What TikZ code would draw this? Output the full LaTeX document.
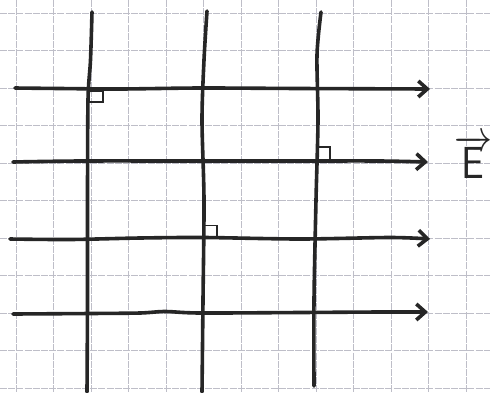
\documentclass[tikz,border=0pt]{standalone}
\usepackage{graphicx}
\usetikzlibrary{arrows.meta}
\definecolor{gridc}{RGB}{190,190,200}
\definecolor{ink}{RGB}{38,38,38}
\tikzset{
  gridline/.style={gridc, line width=1pt, dash pattern=on 7pt off 1.2pt},
  field/.style={ink, line width=3.6pt, line cap=round, line join=round},
  fieldarrow/.style={field, -{Straight Barb[length=9pt,width=16pt,line width=3.6pt]}},
  rightangle/.style={ink, line width=1.8pt, line join=miter},
}
\begin{document}
\begin{tikzpicture}[x=1pt,y=-1pt]
\useasboundingbox (0,0) rectangle (490,392);
\fill[white] (0,0) rectangle (490,392);
% grid paper
\foreach \gx in {16,53.5,91,128.5,166,203.5,241,278.5,316,353.5,391,428.5,466}
  \draw[gridline] (\gx,0) -- (\gx,392);
\foreach \gy in {13,50.5,88,125.5,163,200.5,238,275.5,313,350.5,388}
  \draw[gridline] (0,\gy) -- (490,\gy);
% vertical lines
\draw[field] plot[smooth] coordinates {(92,12) (90.5,60) (88,100) (87.5,200) (87.5,300) (87,392)};
\draw[field] plot[smooth] coordinates {(207,11) (204,60) (202,120) (204,200) (203,300) (202,392)};
\draw[field] plot[smooth] coordinates {(321,12) (317,55) (318,120) (316,200) (314,300) (314,386)};
% field arrows
\coordinate (a1s) at (15,88); \coordinate (a1e) at (430,89);
\coordinate (a2s) at (13,162); \coordinate (a2e) at (428,162);
\coordinate (a3s) at (10,239); \coordinate (a3e) at (430,239);
\coordinate (a4s) at (13,314); \coordinate (a4e) at (428,312);
\draw[fieldarrow] plot[smooth] coordinates {(a1s) (60,88.5) (120,89) (200,88) (300,88.5) (a1e)};
\draw[fieldarrow] plot[smooth] coordinates {(a2s) (80,161) (200,161) (300,161) (380,161) (a2e)};
\draw[fieldarrow] plot[smooth] coordinates {(a3s) (70,239.5) (140,238) (204,237.5) (300,239) (390,237.5) (a3e)};
\draw[fieldarrow] plot[smooth] coordinates {(a4s) (90,313.5) (140,313) (165,311.5) (200,313) (300,312.5) (380,312) (a4e)};
% right-angle marks
\draw[rightangle] (89,102) -- (103,102) -- (103,91) -- (88,91);
\draw[rightangle] (318,147) -- (330,147) -- (330,161);
\draw[rightangle] (204,225.5) -- (217,225.5) -- (217,238);
% label
\node[ink, inner sep=0pt] (E) at (473,157) {\scalebox{3.8}[4.5]{$\overrightarrow{\textsf{E}}$}};
\end{tikzpicture}
\end{document}
